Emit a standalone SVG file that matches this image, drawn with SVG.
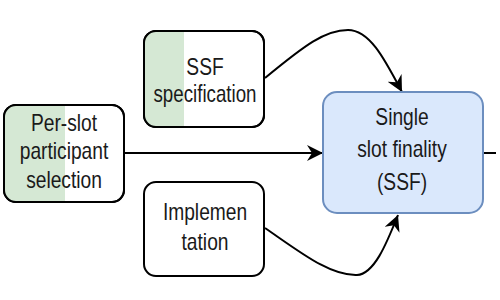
<svg xmlns="http://www.w3.org/2000/svg" width="500" height="300" viewBox="0 0 500 300">
<style>
.box{fill:#fff;stroke:#000;stroke-width:2}
.green{fill:#d5e8d4}
.ssf{fill:#dae8fc;stroke:#6c8ebf;stroke-width:2}
.t{font-family:"Liberation Sans",Arial,sans-serif;font-size:24px;fill:#1a1a1a;text-anchor:middle}
.c{fill:none;stroke:#000;stroke-width:2}
</style>
<defs>
<marker id="ah" markerUnits="userSpaceOnUse" markerWidth="18" markerHeight="16" refX="16" refY="8" orient="auto">
<path d="M0,0 L16,8 L0,16 L5,8 z" fill="#000"/>
</marker>
<clipPath id="cp1"><rect x="144" y="31" width="120" height="96" rx="12"/></clipPath>
<clipPath id="cp2"><rect x="4" y="105" width="120" height="97" rx="12"/></clipPath>
</defs>
<g id="connectors">
<path class="c" d="M124,153 L323,153" marker-end="url(#ah)"/>
<path class="c" d="M265,78 C305,45 325,30 348,30 C370,30 385,60 402,92" marker-end="url(#ah)"/>
<path class="c" d="M265,228 C300,252 330,276 357,275 C374,274 386,245 398,215" marker-end="url(#ah)"/>
<path class="c" d="M483,153 L496,153"/>
</g>
<g id="ssf-spec">
<rect class="box" x="144" y="31" width="120" height="96" rx="12"/>
<rect class="green" x="144" y="31" width="40" height="96" clip-path="url(#cp1)"/>
<rect x="144" y="31" width="120" height="96" rx="12" fill="none" stroke="#000" stroke-width="2"/>
<text class="t" transform="translate(205,75) scale(0.8,1)">SSF</text>
<text class="t" transform="translate(205,102) scale(0.78,1)">specification</text>
</g>
<g id="per-slot">
<rect class="box" x="4" y="105" width="120" height="97" rx="12"/>
<rect class="green" x="4" y="105" width="61" height="97" clip-path="url(#cp2)"/>
<rect x="4" y="105" width="120" height="97" rx="12" fill="none" stroke="#000" stroke-width="2"/>
<text class="t" transform="translate(64,131) scale(0.8,1)">Per-slot</text>
<text class="t" transform="translate(64,159) scale(0.8,1)">participant</text>
<text class="t" transform="translate(64,188) scale(0.8,1)">selection</text>
</g>
<g id="implementation">
<rect class="box" x="144" y="182" width="120" height="94" rx="12"/>
<text class="t" transform="translate(205,220) scale(0.8,1)">Implemen</text>
<text class="t" transform="translate(205,250) scale(0.8,1)">tation</text>
</g>
<g id="ssf">
<rect class="ssf" x="323" y="92" width="160" height="121" rx="14"/>
<text class="t" transform="translate(402,125) scale(0.8,1)">Single</text>
<text class="t" transform="translate(402,157) scale(0.8,1)">slot finality</text>
<text class="t" transform="translate(402,190) scale(0.8,1)">(SSF)</text>
</g>
</svg>
